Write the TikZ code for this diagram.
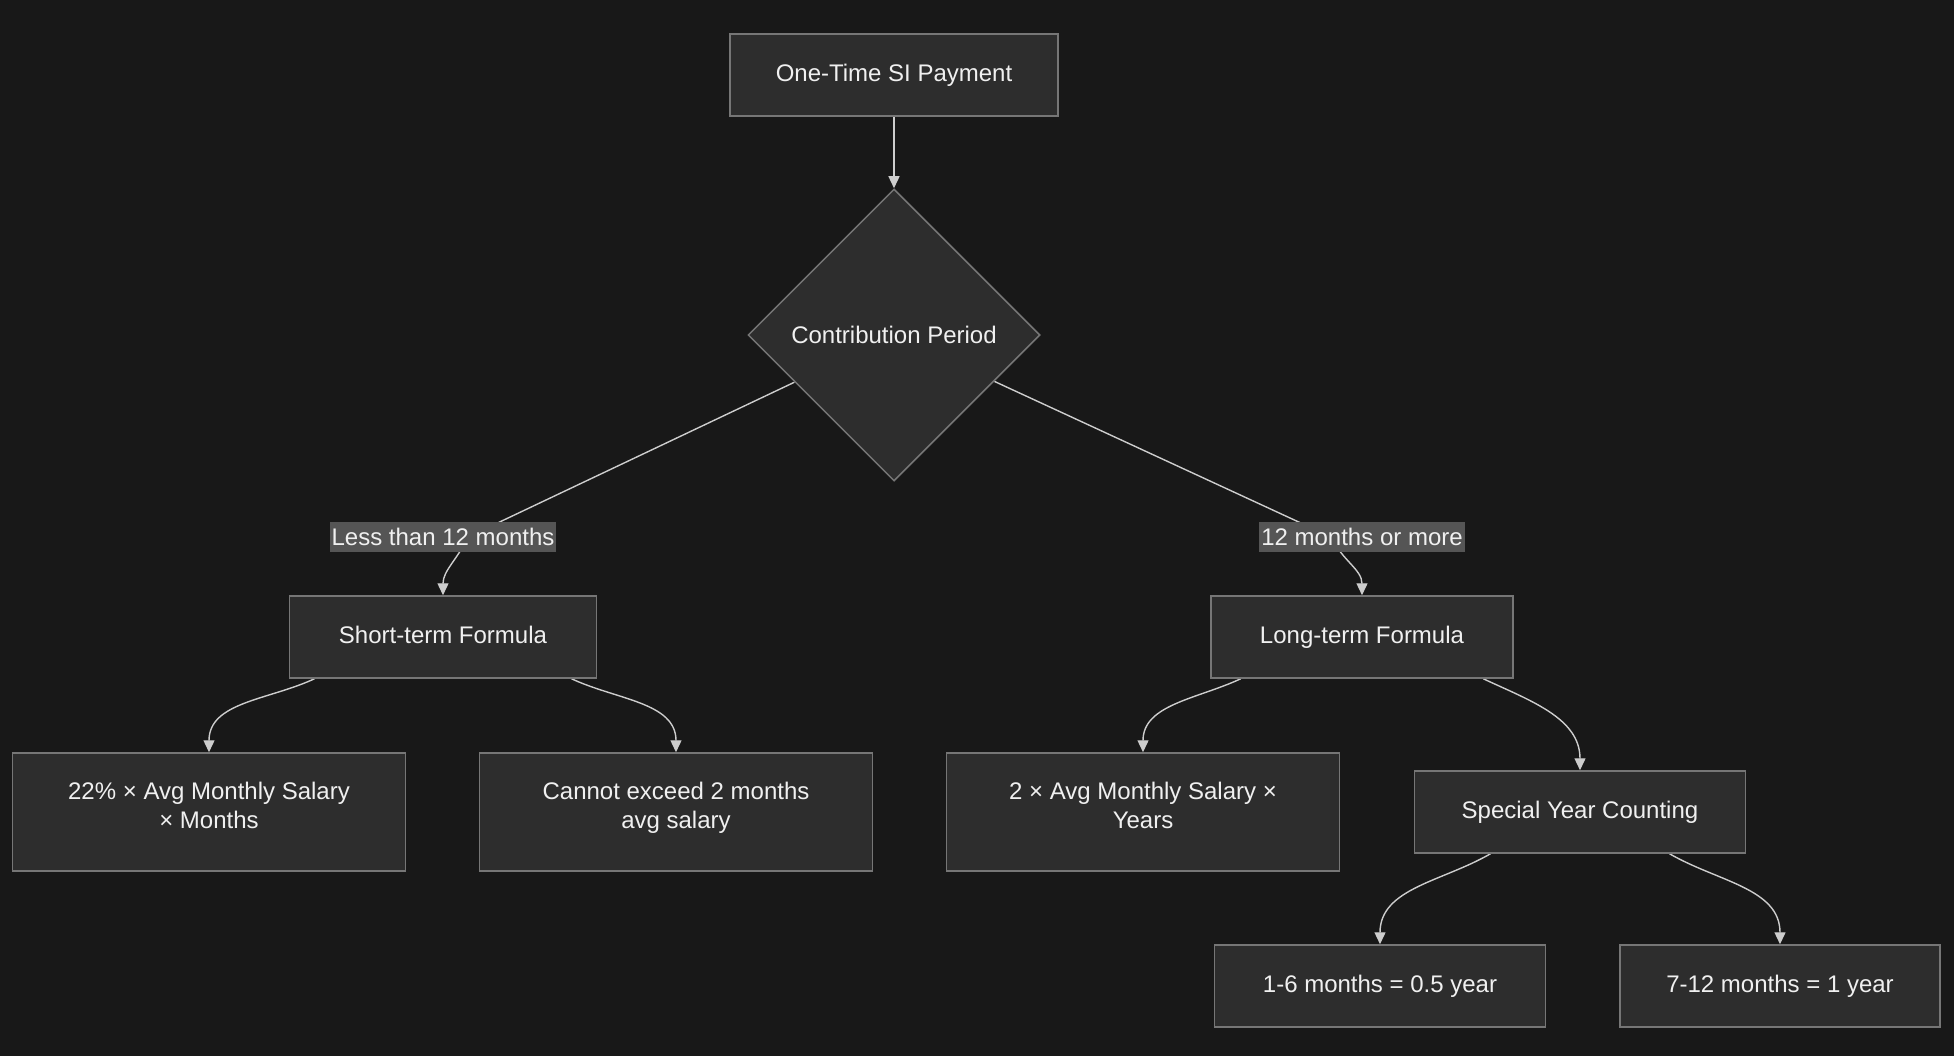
\documentclass[tikz,border=0pt]{standalone}
\usepackage{fontspec}
\setmainfont{Liberation Sans}
\usetikzlibrary{shapes.geometric,arrows.meta,backgrounds,calc}

\definecolor{bgcol}{RGB}{24,24,24}
\definecolor{boxfill}{RGB}{45,45,45}
\definecolor{boxline}{RGB}{118,118,118}
\definecolor{edgecol}{RGB}{205,205,205}
\definecolor{lblfill}{RGB}{85,85,85}
\definecolor{txtcol}{RGB}{240,240,240}

\begin{document}
\begin{tikzpicture}[x = 1pt, y = 1pt,
    every node/.style = {text = txtcol, font = \fontsize{24}{29}\selectfont},
    box/.style = {draw = boxline, fill = boxfill, line width = 1.5pt, minimum height = 82pt, inner sep = 0pt,
        execute at end node = {\rule[-5pt]{0pt}{5pt}}},
    bigbox/.style = {draw = boxline, fill = boxfill, line width = 1.5pt, inner sep = 0pt,
        minimum width = 393pt, minimum height = 118pt, align = center,
        execute at end node = {\rule[-14pt]{0pt}{14pt}}},
    decision/.style = {diamond, aspect = 1, draw = boxline, fill = boxfill, line width = 1.5pt, minimum size = 292pt, inner sep = 0pt},
    cond/.style = {fill = lblfill, inner xsep = 2pt, inner ysep = 0pt, minimum height = 30pt},
    edge/.style = {draw = edgecol, line width = 1.4pt, -{Triangle[width = 11pt, length = 12pt]}}]

    \useasboundingbox (0,0) rectangle (1954,-1056);

    % top of the tree
    \node[box, minimum width = 328pt] (pay) at (894,-75) {One-Time SI Payment};
    \node[decision] (period) at (894,-335) {Contribution Period};

    % edge labels
    \node[cond] (lessl) at (443,-537) {Less than 12 months};
    \node[cond] (morel) at (1362,-537) {12 months or more};

    % formulas
    \node[box, minimum width = 307pt] (short) at (443,-637) {Short-term Formula};
    \node[box, minimum width = 302pt] (long) at (1362,-637) {Long-term Formula};

    \node[bigbox] (pct) at (209,-812) {22\% × Avg Monthly Salary\\× Months};
    \node[bigbox] (cap) at (676,-812) {Cannot exceed 2 months\\avg salary};
    \node[bigbox] (dbl) at (1143,-812) {2 × Avg Monthly Salary ×\\Years};
    \node[box, minimum width = 331pt] (special) at (1580,-812) {Special Year Counting};

    \node[box, minimum width = 331pt] (half) at (1380,-986) {1-6 months = 0.5 year};
    \node[box, minimum width = 320pt] (full) at (1780,-986) {7-12 months = 1 year};

    \begin{pgfonlayer}{background}
        \fill[bgcol] (0,0) rectangle (1954,-1056);

        \draw[edge] (pay) -- (period);

        %\draw[edge] (period) -- (short);
        \draw[edge] (period) -- ($(lessl.center)!0.22!(lessl.east)$) to [out = -115, in = 90] (short.north);
        \draw[edge] (period) -- ($(morel.center)!0.3!(morel.west)$) to [out = -65, in = 90] (long.north);

        \draw[edge] (short.-162) to [out = -155, in = 90] (pct.north);
        \draw[edge] (short.-18) to [out = -25, in = 90] (cap.north);

        \draw[edge] (long.-161) to [out = -155, in = 90] (dbl.north);
        \draw[edge] (long.-19) to [out = -25, in = 90] (special.north);

        \draw[edge] (special.-155) to [out = -150, in = 90] (half.north);
        \draw[edge] (special.-25) to [out = -30, in = 90] (full.north);
    \end{pgfonlayer}
\end{tikzpicture}
\end{document}
